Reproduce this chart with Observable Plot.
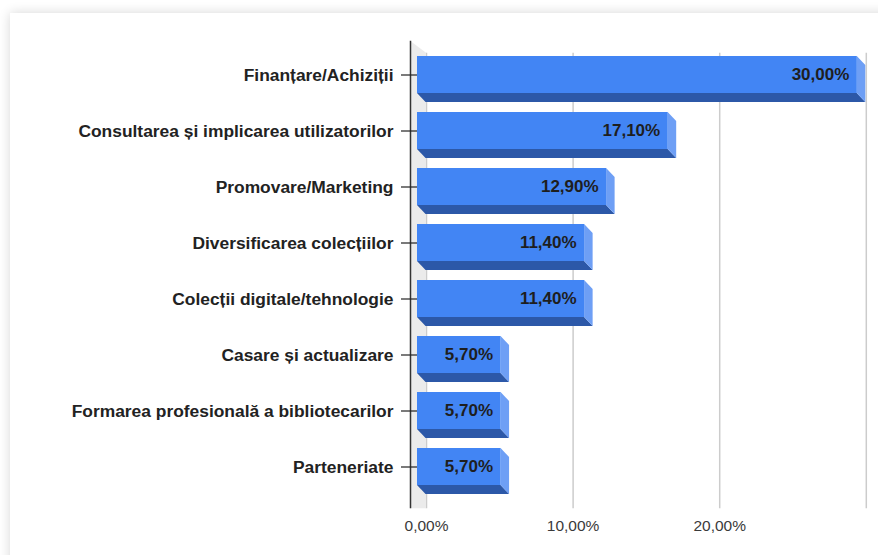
<!DOCTYPE html>
<html>
<head>
<meta charset="utf-8">
<script src="https://cdn.jsdelivr.net/npm/d3@7"></script>
<script src="https://cdn.jsdelivr.net/npm/@observablehq/plot@0.6"></script>
<style>
  html, body { margin: 0; padding: 0; background: #ffffff; width: 878px; height: 555px; overflow: hidden; }
  #card { position: absolute; left: 10px; top: 13px; width: 900px; height: 600px; background: #ffffff;
          box-shadow: 0 0 11px rgba(0,0,0,0.16); }
  #chart { position: absolute; left: 0; top: 0; }
</style>
</head>
<body>
<div id="card"></div>
<div id="chart"></div>
<script>
const categories = [
  "Finanțare/Achiziții",
  "Consultarea și implicarea utilizatorilor",
  "Promovare/Marketing",
  "Diversificarea colecțiilor",
  "Colecții digitale/tehnologie",
  "Casare și actualizare",
  "Formarea profesională a bibliotecarilor",
  "Parteneriate"
];
const values = [30.0, 17.1, 12.9, 11.4, 11.4, 5.7, 5.7, 5.7];
const xTickValues = [0, 10, 20];
const gridValues = [0, 10, 20, 30];

const data = categories.map((cat, i) => ({cat, value: values[i]}));
const fmt = v => v.toFixed(2).replace(".", ",") + "%";

const DEPTH_X = 8.5, DEPTH_Y = 9;     // bar extrusion
const WALL_DX = 9, WALL_FRONT = -7;   // back plane / front axis offsets

function wall(index, scales, values, dimensions) {
  const x = scales.x;
  const x0 = x(0);
  const top = dimensions.marginTop + 4;
  const bottom = dimensions.height - dimensions.marginBottom + 4;
  const g = d3.create("svg:g");
  g.append("polygon")
    .attr("points", [
      [x0 + WALL_FRONT, top], [x0 + WALL_DX, top + 12],
      [x0 + WALL_DX, bottom], [x0 + WALL_FRONT, bottom]
    ].map(p => p.join(",")).join(" "))
    .attr("fill", "#ebebeb");
  return g.node();
}

function bars3d(index, scales, values, dimensions) {
  const x = scales.x, y = scales.y;
  const bw = typeof y.bandwidth === "function" ? y.bandwidth() : scales.scales.y.bandwidth;
  const g = d3.create("svg:g");
  for (const d of data) {
    const x0 = x(0), x1 = x(d.value), y0 = y(d.cat), y1 = y0 + bw;
    const P = pts => pts.map(p => p.join(",")).join(" ");
    g.append("polygon")
      .attr("points", P([[x0, y1], [x1, y1], [x1 + DEPTH_X, y1 + DEPTH_Y], [x0 + DEPTH_X, y1 + DEPTH_Y]]))
      .attr("fill", "#2c58a8");
    g.append("polygon")
      .attr("points", P([[x1, y0], [x1 + DEPTH_X, y0 + DEPTH_Y], [x1 + DEPTH_X, y1 + DEPTH_Y], [x1, y1]]))
      .attr("fill", "#6e9ff5");
    g.append("rect")
      .attr("x", x0).attr("y", y0)
      .attr("width", x1 - x0).attr("height", bw)
      .attr("fill", "#4285f4");
  }
  return g.node();
}

const chart = Plot.plot({
  width: 878,
  height: 555,
  marginLeft: 417,
  marginRight: 21.2,
  marginTop: 36.7,
  marginBottom: 50.8,
  style: "background: transparent; font-family: 'Liberation Sans', Arial, sans-serif; overflow: visible;",
  x: {domain: [0, 30], axis: null},
  y: {type: "band", domain: categories, padding: 0.34, axis: null},
  marks: [
    Plot.ruleX(gridValues, {dx: WALL_DX, dy: 4, insetTop: 12, stroke: "#cccccc", strokeWidth: 1.5}),
    wall,
    bars3d,
    Plot.ruleX([0], {dx: WALL_FRONT, dy: 4, stroke: "#333333", strokeWidth: 1.5}),
    Plot.axisY({
      tickSize: 16, tickPadding: 8, fontSize: 17.4, fontWeight: "bold",
      color: "#222222", label: null, strokeWidth: 1.2
    }),
    Plot.axisX(xTickValues, {
      anchor: "bottom", tickSize: 0, tickPadding: 15, dx: WALL_DX, fontSize: 15.5,
      color: "#3a3a3a", label: null, tickFormat: fmt
    }),
    Plot.text(data, {
      x: "value", y: "cat", text: d => fmt(d.value), textAnchor: "end", dx: -8,
      fontSize: 17, fontWeight: "bold", fill: "#1e1e1e"
    })
  ]
});
document.getElementById("chart").appendChild(chart);
</script>
</body>
</html>
